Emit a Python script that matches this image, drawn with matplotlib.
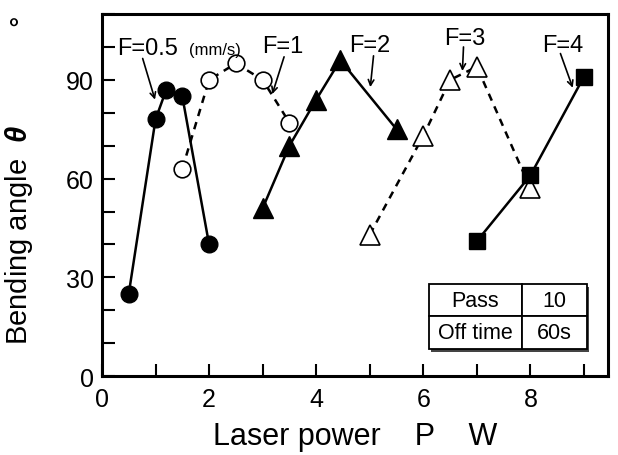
import matplotlib

matplotlib.use("Agg")
import matplotlib.pyplot as plt
from matplotlib.ticker import MultipleLocator
from matplotlib.patches import Rectangle

plt.rcParams["font.family"] = ["Liberation Sans", "DejaVu Sans"]
plt.rcParams["mathtext.fontset"] = "custom"
plt.rcParams["mathtext.it"] = "Liberation Sans:italic:bold"
plt.rcParams["mathtext.rm"] = "Liberation Sans"

# F = 0.5 mm/s, filled circles
p05 = [0.5, 1.0, 1.2, 1.5, 2.0]
a05 = [25, 78, 87, 85, 40]
# F = 1, open circles
p1 = [1.5, 2.0, 2.5, 3.0, 3.5]
a1 = [63, 90, 95, 90, 77]
# F = 2, filled triangles
p2 = [3.0, 3.5, 4.0, 4.45, 5.5]
a2 = [51, 70, 84, 96, 75]
# F = 3, open triangles
p3 = [5.0, 6.0, 6.5, 7.0, 8.0]
a3 = [43, 73, 90, 94, 57]
# F = 4, filled squares
p4 = [7.0, 8.0, 9.0]
a4 = [41, 61, 91]

fig = plt.figure(figsize=(6.18, 4.56), dpi=100)
ax = fig.add_axes([0.165, 0.173, 0.819, 0.794])

lw = 1.8
ax.plot(p05, a05, "-", color="black", lw=lw, marker="o", ms=12, mfc="black", mec="black", zorder=3)
ax.plot(p1, a1, "--", color="black", lw=lw, dashes=(3, 2.5), marker="o", ms=12,
        mfc="white", mec="black", mew=1.2, zorder=3)
ax.plot(p2, a2, "-", color="black", lw=lw, marker="^", ms=14, mfc="black", mec="black", zorder=3)
ax.plot(p3, a3, "--", color="black", lw=lw, dashes=(3, 2.5), marker="^", ms=14,
        mfc="white", mec="black", mew=1.2, zorder=3)
ax.plot(p4, a4, "-", color="black", lw=lw, marker="s", ms=11, mfc="black", mec="black", zorder=4)

ax.set_xlim(0, 9.45)
ax.set_ylim(0, 110)
ax.xaxis.set_major_locator(MultipleLocator(2))
ax.xaxis.set_minor_locator(MultipleLocator(1))
ax.yaxis.set_major_locator(MultipleLocator(30))
ax.yaxis.set_minor_locator(MultipleLocator(10))
ax.tick_params(which="both", direction="in", length=9, width=1.5, labelsize=18,
               top=False, right=False)
ax.tick_params(axis="x", pad=8)
ax.tick_params(axis="y", pad=6)
for sp in ax.spines.values():
    sp.set_linewidth(2.2)

ax.set_xlabel("Laser power    P    W", fontsize=22)
ax.xaxis.set_label_coords(0.5, -0.125)
ax.set_ylabel(r"Bending angle  $\theta$", fontsize=21)
ax.yaxis.set_label_coords(-0.132, 0.392)
ax.text(-0.16, 0.985, "°", transform=ax.transAxes, fontsize=21, rotation=90,
        ha="center", va="center")

# curve labels with arrows: (label, arrow tip, arrow tail, text position)
arrow = dict(arrowstyle="->", color="black", lw=1.2, shrinkA=0, shrinkB=0)
ann = [
    ("F=0.5", (0.99, 84), (0.76, 96.5), (0.86, 97.9)),
    ("F=1", (3.18, 85.7), (3.4, 97.0), (3.38, 98.5)),
    ("F=2", (5.01, 87.8), (5.07, 97.3), (5.0, 98.8)),
    ("F=3", (6.73, 92.7), (6.75, 100.0), (6.77, 101.0)),
    ("F=4", (8.79, 87.6), (8.56, 98.0), (8.6, 98.8)),
]
for label, tip, tail, pos in ann:
    ax.annotate("", xy=tip, xytext=tail, arrowprops=arrow)
    ax.text(pos[0], pos[1], label, fontsize=17, ha="center", va="baseline")
ax.text(2.11, 97.9, "(mm/s)", fontsize=12, ha="center", va="baseline")

# parameter table
tx, ty, tw, th = 0.646, 0.075, 0.312, 0.18
ax.add_patch(Rectangle((tx + 0.004, ty - 0.008), tw, th, transform=ax.transAxes,
                       facecolor="#444444", edgecolor="none", zorder=4))
tbl = ax.table(cellText=[["Pass", "10"], ["Off time", "60s"]],
               colWidths=[0.59, 0.41], cellLoc="center",
               bbox=[tx, ty, tw, th], zorder=5)
tbl.auto_set_font_size(False)
tbl.set_fontsize(15.5)
for cell in tbl.get_celld().values():
    cell.set_linewidth(1.3)
    cell.set_facecolor("white")

fig.savefig("out.png", dpi=100)
